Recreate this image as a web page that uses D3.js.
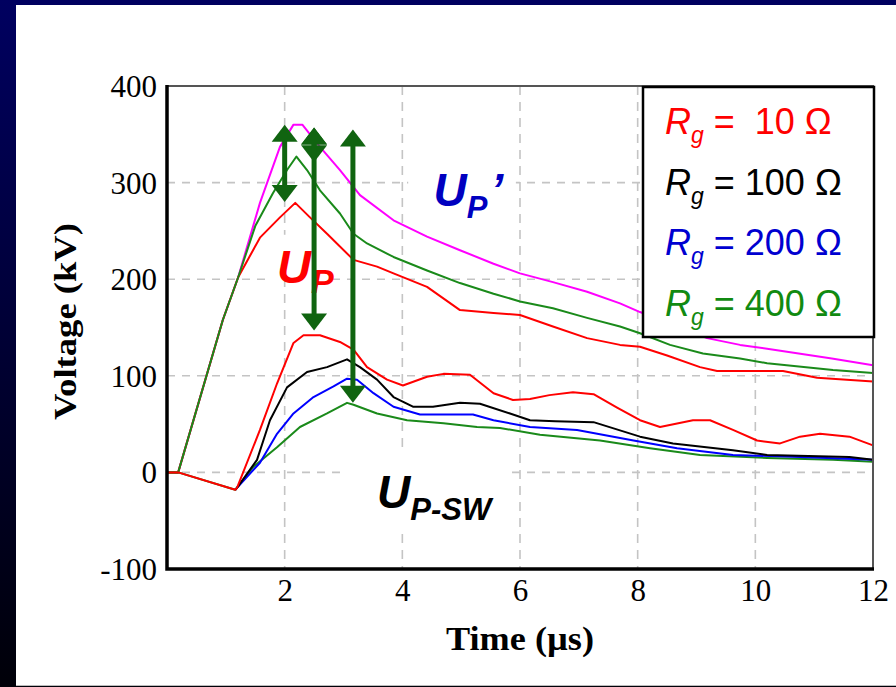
<!DOCTYPE html>
<html>
<head>
<meta charset="utf-8">
<script src="https://cdn.jsdelivr.net/npm/d3@7"></script>
<style>
  html, body { margin: 0; padding: 0; }
  body { width: 896px; height: 687px; overflow: hidden; background: linear-gradient(#000060, #000008); }
  svg { display: block; }
  text { white-space: pre; }
</style>
</head>
<body>
<div id="chart"></div>
<script>
// time in µs, voltage in kV
const magentaUpper = [[0,0],[0.19,0],[0.95,158],[1.21,202],[1.58,279],[1.92,337],[2.15,360],[2.3,360],[2.6,337],[2.94,313],[3.28,287],[3.85,261],[4.42,244],[4.98,230],[5.55,216],[6.0,206],[6.56,197],[7.14,187],[7.7,175],[8.04,166],[9.18,139],[9.74,132],[10.2,128],[11.3,118],[12,111]];
const redUpper = [[0,0],[0.19,0],[0.95,158],[1.21,202],[1.58,243],[1.92,264],[2.18,279],[2.43,264],[2.72,247],[3.17,220],[3.57,213],[3.85,206],[4.42,192],[4.98,168],[5.55,165],[6.0,163],[6.56,151],[7.14,139],[7.7,132],[8.04,130],[8.5,121],[9.06,109],[9.35,105],[10.47,105],[11.05,98],[12,94]];
const greenUpper = [[0,0],[0.19,0],[0.95,158],[1.21,202],[1.5,255],[1.8,289],[2.04,313],[2.2,327],[2.38,313],[2.6,292],[2.94,268],[3.17,247],[3.4,237],[3.85,223],[4.42,209],[4.98,196],[5.55,185],[6.0,177],[6.56,170],[7.14,160],[7.7,151],[8.04,144],[8.55,132],[9.11,123],[9.74,118],[10.2,113],[11.32,106],[12,103]];
const redLower = [[0,0],[0.19,0],[1.16,-18],[1.19,-16],[1.58,44],[1.87,92],[2.15,134],[2.32,142],[2.6,142],[2.94,135],[3.17,127],[3.4,109],[3.74,96],[4.01,90],[4.42,99],[4.7,102],[5.15,101],[5.55,82],[5.88,75],[6.17,76],[6.5,80],[6.9,83],[7.25,81],[7.65,67],[8.04,54],[8.38,47],[8.94,54],[9.23,54],[9.62,44],[10.03,33],[10.42,30],[10.76,37],[11.1,40],[11.6,37],[12,28]];
const blackLower = [[1.16,-18],[1.19,-16],[1.53,13],[1.75,54],[2.04,88],[2.38,104],[2.72,109],[3.06,117],[3.28,109],[3.57,96],[3.85,78],[4.18,68],[4.52,68],[4.98,72],[5.32,71],[5.83,61],[6.17,54],[6.6,53],[7.25,52],[8.04,37],[8.6,30],[9.62,23],[10.2,18],[11.6,16],[12,13]];
const blueLower = [[1.16,-18],[1.19,-16],[1.58,10],[1.87,40],[2.15,61],[2.49,78],[2.83,89],[3.06,97],[3.23,96],[3.51,82],[3.85,68],[4.3,60],[5.2,60],[5.55,54],[6.17,47],[6.97,44],[7.93,33],[8.67,25],[9.62,18],[10.76,16],[12,13]];
const greenLower = [[0,0],[0.19,0],[1.16,-18],[1.47,6],[1.87,26],[2.26,47],[2.72,61],[3.06,72],[3.17,70],[3.57,61],[4.08,54],[4.7,51],[5.27,47],[5.66,46],[6.34,39],[7.36,33],[8.21,25],[9.06,18],[10.2,15],[11.32,13],[12,11]];

const xTicks = [2, 4, 6, 8, 10, 12];
const yTicks = [-100, 0, 100, 200, 300, 400];
const xGrid = [2, 4, 6, 8, 10];
const yGrid = [0, 100, 200, 300];

const legendLabels = ["=  10 Ω", "= 100 Ω", "= 200 Ω", "= 400 Ω"];
const legendColors = ["#ff0000", "#000000", "#0000d0", "#118a11"];

// double arrows: time, from voltage, to voltage
const arrows = [[2.0, 360, 280], [2.5, 357, 321], [2.5, 357, 147], [3.16, 355, 72]];

(function () {
  const W = 896, H = 687;
  const plot = { left: 167, right: 873, top: 86, bottom: 569 };

  const svg = d3.select("#chart").append("svg")
    .attr("width", W).attr("height", H)
    .attr("viewBox", `0 0 ${W} ${H}`);

  svg.append("rect").attr("x", 16).attr("y", 5).attr("width", W - 16).attr("height", 680).attr("fill", "#fff");
  svg.append("rect").attr("x", 16).attr("y", 685).attr("width", W - 16).attr("height", 1).attr("fill", "#bbb");

  const x = d3.scaleLinear().domain([0, 12]).range([plot.left, plot.right]);
  const y = d3.scaleLinear().domain([-100, 400]).range([plot.bottom, plot.top]);

  // grid
  svg.append("g").selectAll("line").data(xGrid).join("line")
    .attr("x1", d => x(d)).attr("x2", d => x(d))
    .attr("y1", plot.top).attr("y2", plot.bottom)
    .attr("stroke", "#c4c4c4").attr("stroke-width", 1.6).attr("stroke-dasharray", "9,7");
  svg.append("g").selectAll("line").data(yGrid).join("line")
    .attr("x1", plot.left).attr("x2", plot.right)
    .attr("y1", d => y(d)).attr("y2", d => y(d))
    .attr("stroke", "#c4c4c4").attr("stroke-width", 1.6).attr("stroke-dasharray", "8,7");

  // white boxes behind the annotation labels
  const boxes = [[4.1, 5.93, 323, 256], [1.75, 2.8, 246, 198], [2.94, 5.86, 26, -57]];
  svg.append("g").selectAll("rect").data(boxes).join("rect")
    .attr("x", d => x(d[0])).attr("width", d => x(d[1]) - x(d[0]))
    .attr("y", d => y(d[2])).attr("height", d => y(d[3]) - y(d[2]))
    .attr("fill", "#fff");

  // annotation text
  const ann = svg.append("g").attr("font-family", "'Liberation Sans', Arial, sans-serif")
    .attr("font-weight", "bold").attr("font-style", "italic");

  const upPrime = ann.append("text").attr("x", x(4.53)).attr("y", y(276)).attr("fill", "#0000c0").attr("font-size", 46);
  upPrime.append("tspan").text("U");
  upPrime.append("tspan").attr("font-size", 31).attr("dy", 12).text("P");
  upPrime.append("tspan").attr("dy", -12).attr("dx", 3).text("’");

  const upSw = ann.append("text").attr("x", x(3.57)).attr("y", y(-37)).attr("fill", "#000").attr("font-size", 46);
  upSw.append("tspan").text("U");
  upSw.append("tspan").attr("font-size", 31).attr("dy", 12).text("P-SW");

  const up = ann.append("text").attr("x", x(1.87)).attr("y", y(196)).attr("fill", "#ff0000").attr("font-size", 47);
  up.append("tspan").text("U");
  up.append("tspan").attr("font-size", 34).attr("dy", 10).text("P");

  // curves
  const line = d3.line().x(d => x(d[0])).y(d => y(d[1]));
  const series = [
    [magentaUpper, "#ff00ff"],
    [redUpper, "#ff0000"],
    [greenUpper, "#1a8a1a"],
    [greenLower, "#1a8a1a"],
    [blueLower, "#0000ff"],
    [blackLower, "#000000"],
    [redLower, "#ff0000"]
  ];
  svg.append("g").selectAll("path").data(series).join("path")
    .attr("d", d => line(d[0]))
    .attr("fill", "none")
    .attr("stroke", d => d[1])
    .attr("stroke-width", 2)
    .attr("stroke-linejoin", "round");

  // frame
  svg.append("rect").attr("x", plot.left).attr("y", plot.top)
    .attr("width", plot.right - plot.left).attr("height", plot.bottom - plot.top)
    .attr("fill", "none").attr("stroke", "#555").attr("stroke-width", 2);
  svg.append("path")
    .attr("d", `M${plot.left},${plot.top - 1}V${plot.bottom}H${plot.right + 1}`)
    .attr("fill", "none").attr("stroke", "#000").attr("stroke-width", 3.5);

  // axes
  const xAxis = svg.append("g").attr("transform", `translate(0,${plot.bottom})`)
    .call(d3.axisBottom(x).tickValues(xTicks).tickFormat(d => String(d)).tickSize(0).tickPadding(0));
  const yAxis = svg.append("g").attr("transform", `translate(${plot.left},0)`)
    .call(d3.axisLeft(y).tickValues(yTicks).tickFormat(d => String(d)).tickSize(0).tickPadding(0));
  [xAxis, yAxis].forEach(a => {
    a.select(".domain").remove();
    a.selectAll("text").attr("font-family", "'Liberation Serif', 'Times New Roman', serif")
      .attr("font-size", 31).attr("fill", "#000");
  });
  xAxis.selectAll("text").attr("dy", null).attr("y", 32);
  yAxis.selectAll("text").attr("dy", null).attr("x", -10).attr("y", 10.5);

  svg.append("text")
    .attr("x", (plot.left + plot.right) / 2).attr("y", 650)
    .attr("text-anchor", "middle")
    .attr("font-family", "'Liberation Serif', 'Times New Roman', serif")
    .attr("font-weight", "bold").attr("font-size", 33)
    .attr("textLength", 148).attr("lengthAdjust", "spacingAndGlyphs")
    .text("Time (µs)");

  svg.append("text")
    .attr("transform", `translate(76,${(223 + 420) / 2}) rotate(-90)`)
    .attr("text-anchor", "middle")
    .attr("font-family", "'Liberation Serif', 'Times New Roman', serif")
    .attr("font-weight", "bold").attr("font-size", 32)
    .attr("textLength", 197).attr("lengthAdjust", "spacingAndGlyphs")
    .text("Voltage (kV)");

  // arrows
  const arrowColor = "#106410";
  const ag = svg.append("g");
  const headW = 13, headL = 17;
  arrows.forEach(([t, v1, v2]) => {
    const ax = x(t), yTop = y(v1), yBot = y(v2);
    ag.append("line").attr("x1", ax).attr("x2", ax)
      .attr("y1", yTop + headL - 2).attr("y2", yBot - headL + 2)
      .attr("stroke", arrowColor).attr("stroke-width", 5);
    ag.append("path").attr("d", `M${ax},${yTop}L${ax - headW},${yTop + headL}H${ax + headW}Z`).attr("fill", arrowColor);
    ag.append("path").attr("d", `M${ax},${yBot}L${ax - headW},${yBot - headL}H${ax + headW}Z`).attr("fill", arrowColor);
  });

  // legend
  const lg = svg.append("g");
  lg.append("rect").attr("x", 643).attr("y", plot.top + 1).attr("width", plot.right + 1 - 643).attr("height", 250)
    .attr("fill", "#fff").attr("stroke", "#000").attr("stroke-width", 2.5);
  legendLabels.forEach((lab, i) => {
    const t = lg.append("text")
      .attr("x", 665).attr("y", 134 + i * 60.5)
      .attr("font-family", "'Liberation Sans', Arial, sans-serif")
      .attr("font-size", 36).attr("fill", legendColors[i]);
    t.append("tspan").attr("font-style", "italic").text("R");
    t.append("tspan").attr("font-style", "italic").attr("font-size", 23).attr("dy", 9).text("g");
    t.append("tspan").attr("dy", -9).text(" " + lab);
  });
})();
</script>
</body>
</html>
